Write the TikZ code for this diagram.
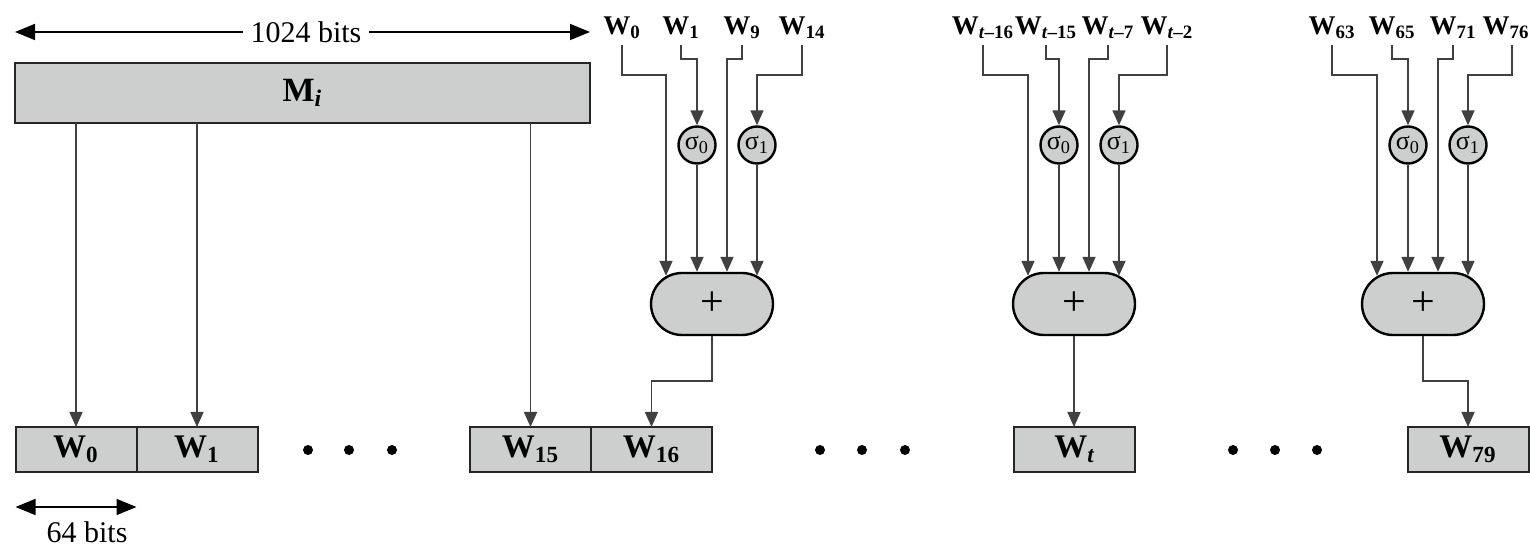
\documentclass[tikz,border=0pt]{standalone}
\usepackage{fontspec}
\setmainfont{Liberation Serif}
\usetikzlibrary{arrows.meta,positioning}
\definecolor{boxgray}{RGB}{205,207,207}
\begin{document}
\begin{tikzpicture}[x=0.5pt,y=0.5pt,
  wbox/.style={draw=black!85,line width=1pt,fill=boxgray,minimum width=60.5pt,minimum height=22.5pt,inner sep=0pt,outer sep=0pt,font=\fontsize{16.5}{18}\selectfont\bfseries},
  toplbl/.style={anchor=south,inner sep=0pt,text depth=5pt,font=\fontsize{13.5}{15}\selectfont\bfseries},
  sig/.style={circle,draw=black,line width=1.2pt,fill=boxgray,minimum size=18.5pt,inner sep=0pt,font=\fontsize{13}{14}\selectfont},
  adder/.style={draw=black,line width=1.2pt,fill=boxgray,rounded corners=15.5pt,minimum width=61pt,minimum height=31pt,inner sep=0pt,font=\fontsize{21}{22}\selectfont},
  wire/.style={draw=black!75,line width=0.8pt,-{Triangle[length=7.5pt,width=6.5pt]}},
  dim/.style={line width=0.8pt,{Triangle[length=10pt,width=8pt]}-{Triangle[length=10pt,width=8pt]}}]
\useasboundingbox (0,0) rectangle (1530,-549);
% message block
\node[wbox,minimum width=287.5pt,minimum height=30pt,font=\fontsize{17}{19}\selectfont\bfseries] (mi) at (302.5,-93) {M\textsubscript{\itshape i}};
\draw[dim] ([yshift=15.5pt]mi.north west) -- ([yshift=15.5pt]mi.north east)
  node[pos=0.506,fill=white,inner xsep=4pt,inner ysep=1pt,font=\fontsize{15}{16}\selectfont] (b1024) {1024 bits};
% word boxes
\node[wbox] (w0) at (76,-449.5) {W\textsubscript{0}};
\node[wbox,right=0pt of w0] (w1) {W\textsubscript{1}};
\node[wbox] (w15) at (530.5,-449.5) {W\textsubscript{15}};
\node[wbox,right=0pt of w15] (w16) {W\textsubscript{16}};
\node[wbox] (wt) at (1074.5,-449.5) {W\textsubscript{\itshape t}};
\node[wbox] (w79) at (1468,-449.5) {W\textsubscript{79}};
\fill (308,-450) circle (2.5pt);
\fill (349,-450) circle (2.5pt);
\fill (392,-450) circle (2.5pt);
\fill (820,-450) circle (2.5pt);
\fill (862,-450) circle (2.5pt);
\fill (905,-450) circle (2.5pt);
\fill (1233,-450) circle (2.5pt);
\fill (1275,-450) circle (2.5pt);
\fill (1317,-450) circle (2.5pt);
\draw[dim] ([yshift=-17.5pt]w0.south west) -- ([yshift=-17.5pt]w0.south east);
\node[font=\fontsize{15}{16}\selectfont] (b64) at (87,-532) {64 bits};
% first words straight from the block
\draw[wire] (mi.south -| w0) -- (w0);
\draw[wire] (mi.south -| w1) -- (w1);
\draw[wire] (mi.south -| w15) -- (w15);
% t = 16
\node[adder] (p1) at (712,-304) {+};
\node[sig] (s10) at (697,-145) {σ\textsubscript{0}};
\node[sig] (s11) at (757,-145) {σ\textsubscript{1}};
\node[toplbl] (a10) at (622,-45) {W\textsubscript{0}};
\node[toplbl] (a11) at (681,-45) {W\textsubscript{1}};
\node[toplbl] (a12) at (742,-45) {W\textsubscript{9}};
\node[toplbl] (a13) at (802,-45) {W\textsubscript{14}};
\draw[wire] (a10.south) -- ++(0,-30) -| ([xshift=-23pt,yshift=-2pt]p1.north);
\draw[wire] (a11.south) -- ++(0,-14) -| (s10.north);
\draw[wire] (a12.south) -- ++(0,-14) -| ([xshift=7.5pt]p1.north);
\draw[wire] (a13.south) -- ++(0,-30) -| (s11.north);
\draw[wire] (s10) -- ([xshift=-7.5pt]p1.north);
\draw[wire] (s11) -- ([xshift=22.5pt,yshift=-2pt]p1.north);
\draw[wire] (p1.south) -- ++(0,-45) -| (w16.north);
% general t
\node[adder] (p2) at (1074,-304) {+};
\node[sig] (s20) at (1059,-145) {σ\textsubscript{0}};
\node[sig] (s21) at (1119,-145) {σ\textsubscript{1}};
\node[toplbl] (a20) at (983,-45) {W\textsubscript{\itshape t\/\upshape–16}};
\node[toplbl] (a21) at (1046,-45) {W\textsubscript{\itshape t\/\upshape–15}};
\node[toplbl] (a22) at (1108,-45) {W\textsubscript{\itshape t\/\upshape–7}};
\node[toplbl] (a23) at (1167,-45) {W\textsubscript{\itshape t\/\upshape–2}};
\draw[wire] (a20.south) -- ++(0,-30) -| ([xshift=-23pt,yshift=-2pt]p2.north);
\draw[wire] (a21.south) -- ++(0,-14) -| (s20.north);
\draw[wire] (a22.south) -- ++(0,-14) -| ([xshift=7.5pt]p2.north);
\draw[wire] (a23.south) -- ++(0,-30) -| (s21.north);
\draw[wire] (s20) -- ([xshift=-7.5pt]p2.north);
\draw[wire] (s21) -- ([xshift=22.5pt,yshift=-2pt]p2.north);
\draw[wire] (p2.south) -- (p2.south |- wt.north);
% t = 79
\node[adder] (p3) at (1423,-304) {+};
\node[sig] (s30) at (1408,-145) {σ\textsubscript{0}};
\node[sig] (s31) at (1468,-145) {σ\textsubscript{1}};
\node[toplbl] (a30) at (1332,-45) {W\textsubscript{63}};
\node[toplbl] (a31) at (1392,-45) {W\textsubscript{65}};
\node[toplbl] (a32) at (1453,-45) {W\textsubscript{71}};
\node[toplbl] (a33) at (1506,-45) {W\textsubscript{76}};
\draw[wire] (a30.south) -- ++(0,-30) -| ([xshift=-23pt,yshift=-2pt]p3.north);
\draw[wire] (a31.south) -- ++(0,-14) -| (s30.north);
\draw[wire] (a32.south) -- ++(0,-14) -| ([xshift=7.5pt]p3.north);
\draw[wire] ([xshift=3pt]a33.south) -- ++(0,-30) -| (s31.north);
\draw[wire] (s30) -- ([xshift=-7.5pt]p3.north);
\draw[wire] (s31) -- ([xshift=22.5pt,yshift=-2pt]p3.north);
\draw[wire] (p3.south) -- ++(0,-45) -| (w79.north);
\end{tikzpicture}
\end{document}
